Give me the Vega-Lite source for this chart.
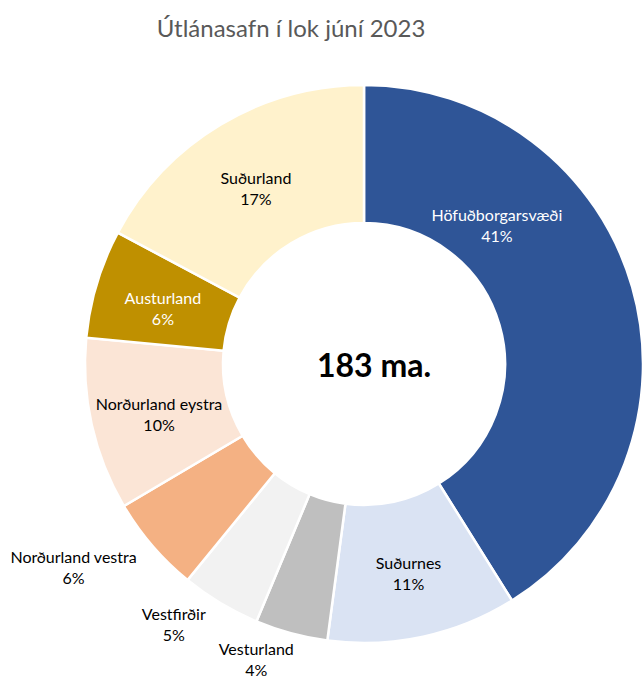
{
  "$schema": "https://vega.github.io/schema/vega-lite/v6.json",
  "width": 560,
  "height": 558,
  "autosize": {"type": "none"},
  "padding": {"left": 84, "top": 85, "right": 0, "bottom": 35},
  "background": "white",
  "title": {"text": "Útlánasafn í lok júní 2023", "font": "Lato", "fontSize": 24, "fontWeight": "normal", "color": "#595959", "anchor": "middle", "dx": -73, "dy": 33, "offset": 40},
  "config": {"view": {"stroke": null}, "text": {"font": "Lato"}},
  "data": {"values": [
    {"region": "Höfuðborgarsvæði", "share": 0.411},
    {"region": "Suðurnes", "share": 0.110},
    {"region": "Vesturland", "share": 0.042},
    {"region": "Vestfirðir", "share": 0.046},
    {"region": "Norðurland vestra", "share": 0.056},
    {"region": "Norðurland eystra", "share": 0.100},
    {"region": "Austurland", "share": 0.063},
    {"region": "Suðurland", "share": 0.172}
  ]},
  "transform": [{"window": [{"op": "row_number", "as": "rank"}]}],
  "layer": [
    {
      "mark": {"type": "arc", "outerRadius": 279, "innerRadius": 141, "stroke": "white", "strokeWidth": 2.5},
      "encoding": {
        "theta": {"field": "share", "type": "quantitative", "stack": true},
        "order": {"field": "rank", "type": "quantitative"},
        "color": {"field": "region", "type": "nominal", "legend": null,
          "scale": {"domain": ["Höfuðborgarsvæði", "Suðurnes", "Vesturland", "Vestfirðir", "Norðurland vestra", "Norðurland eystra", "Austurland", "Suðurland"],
                    "range": ["#2F5597", "#DAE3F3", "#BFBFBF", "#F2F2F2", "#F4B183", "#FBE5D6", "#BF9000", "#FFF2CC"]}}
      }
    },
    {
      "mark": {"type": "text", "radius": 210, "dy": -5, "fontSize": 16, "align": "center", "baseline": "middle"},
      "encoding": {
        "theta": {"field": "share", "type": "quantitative", "stack": true},
        "order": {"field": "rank", "type": "quantitative"},
        "text": {"condition": {"test": "datum.region === 'Suðurnes' || datum.region === 'Norðurland eystra' || datum.region === 'Austurland' || datum.region === 'Suðurland'", "field": "region", "type": "nominal"}, "value": ""},
        "color": {"condition": {"test": "datum.region === 'Austurland'", "value": "white"}, "value": "black"}
      }
    },
    {
      "mark": {"type": "text", "radius": 210, "dy": 16, "fontSize": 16, "align": "center", "baseline": "middle"},
      "encoding": {
        "theta": {"field": "share", "type": "quantitative", "stack": true},
        "order": {"field": "rank", "type": "quantitative"},
        "text": {"condition": {"test": "datum.region === 'Suðurnes' || datum.region === 'Norðurland eystra' || datum.region === 'Austurland' || datum.region === 'Suðurland'", "field": "share", "type": "quantitative", "format": ".0%"}, "value": ""},
        "color": {"condition": {"test": "datum.region === 'Austurland'", "value": "white"}, "value": "black"}
      }
    },
    {
      "mark": {"type": "text", "radius": 210, "dx": -69, "dy": -90, "fontSize": 16, "align": "center", "baseline": "middle", "color": "white"},
      "encoding": {
        "theta": {"field": "share", "type": "quantitative", "stack": true},
        "order": {"field": "rank", "type": "quantitative"},
        "text": {"condition": {"test": "datum.region === 'Höfuðborgarsvæði'", "field": "region", "type": "nominal"}, "value": ""}
      }
    },
    {
      "mark": {"type": "text", "radius": 210, "dx": -69, "dy": -69, "fontSize": 16, "align": "center", "baseline": "middle", "color": "white"},
      "encoding": {
        "theta": {"field": "share", "type": "quantitative", "stack": true},
        "order": {"field": "rank", "type": "quantitative"},
        "text": {"condition": {"test": "datum.region === 'Höfuðborgarsvæði'", "field": "share", "type": "quantitative", "format": ".0%"}, "value": ""}
      }
    },
    {
      "mark": {"type": "text", "radius": 325, "dx": -23, "dy": -28, "fontSize": 16, "align": "center", "baseline": "middle", "color": "black"},
      "encoding": {
        "theta": {"field": "share", "type": "quantitative", "stack": true},
        "order": {"field": "rank", "type": "quantitative"},
        "text": {"condition": {"test": "datum.region === 'Vesturland' || datum.region === 'Vestfirðir'", "field": "region", "type": "nominal"}, "value": ""}
      }
    },
    {
      "mark": {"type": "text", "radius": 325, "dx": -23, "dy": -7, "fontSize": 16, "align": "center", "baseline": "middle", "color": "black"},
      "encoding": {
        "theta": {"field": "share", "type": "quantitative", "stack": true},
        "order": {"field": "rank", "type": "quantitative"},
        "text": {"condition": {"test": "datum.region === 'Vesturland' || datum.region === 'Vestfirðir'", "field": "share", "type": "quantitative", "format": ".0%"}, "value": ""}
      }
    },
    {
      "mark": {"type": "text", "radius": 325, "dx": -44, "dy": -18, "fontSize": 16, "align": "center", "baseline": "middle", "color": "black"},
      "encoding": {
        "theta": {"field": "share", "type": "quantitative", "stack": true},
        "order": {"field": "rank", "type": "quantitative"},
        "text": {"condition": {"test": "datum.region === 'Norðurland vestra'", "field": "region", "type": "nominal"}, "value": ""}
      }
    },
    {
      "mark": {"type": "text", "radius": 325, "dx": -44, "dy": 3, "fontSize": 16, "align": "center", "baseline": "middle", "color": "black"},
      "encoding": {
        "theta": {"field": "share", "type": "quantitative", "stack": true},
        "order": {"field": "rank", "type": "quantitative"},
        "text": {"condition": {"test": "datum.region === 'Norðurland vestra'", "field": "share", "type": "quantitative", "format": ".0%"}, "value": ""}
      }
    },
    {
      "data": {"values": [{"label": "183 ma."}]},
      "mark": {"type": "text", "fontSize": 32, "fontWeight": "bold", "align": "center", "baseline": "middle", "color": "black", "dx": 10, "dy": 3},
      "encoding": {"text": {"field": "label", "type": "nominal"}}
    }
  ]
}
